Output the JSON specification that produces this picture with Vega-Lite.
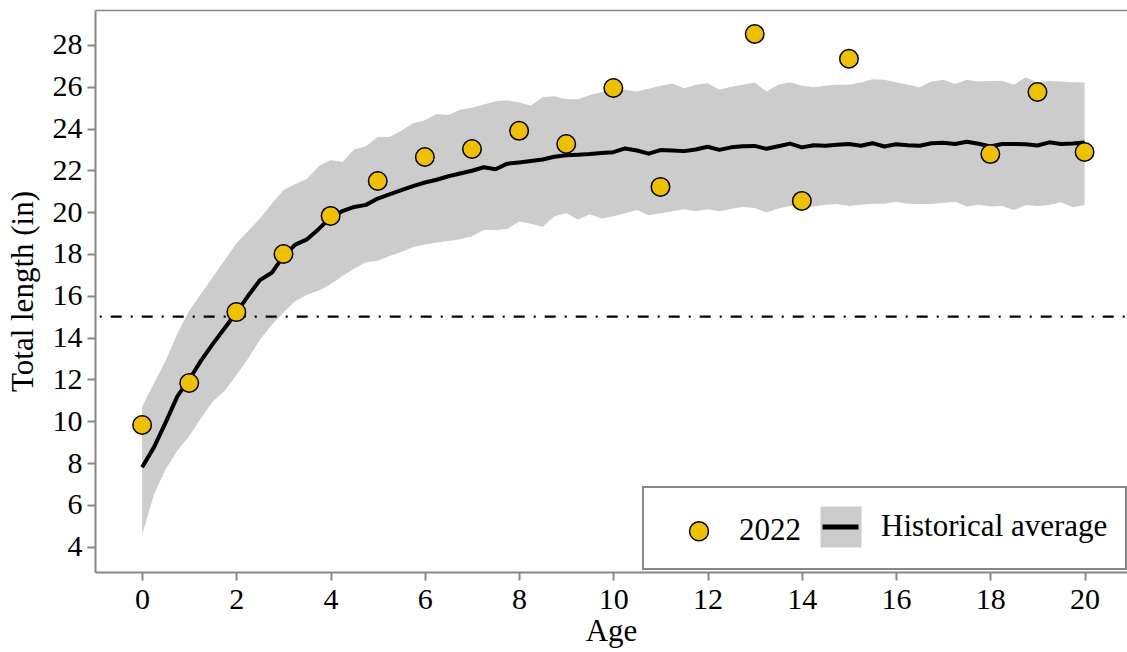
{
  "$schema": "https://vega.github.io/schema/vega-lite/v6.json",
  "width": 1032,
  "height": 562,
  "autosize": {"type": "none"},
  "padding": {"left": 95, "top": 10, "right": 0, "bottom": 80},
  "config": {
    "font": "Liberation Serif",
    "view": {"stroke": null},
    "legend": {"strokeWidth": 2},
    "axis": {
      "grid": false,
      "domainColor": "#878787",
      "domainWidth": 2,
      "tickColor": "#878787",
      "tickWidth": 2,
      "tickSize": 8,
      "labelFont": "Liberation Serif",
      "labelFontSize": 30,
      "labelColor": "black",
      "titleFont": "Liberation Serif",
      "titleFontSize": 31,
      "titleFontWeight": "normal",
      "titleColor": "black"
    }
  },
  "datasets": {
    "band": [
      {"age": 0, "mean": 7.8, "lower": 4.56, "upper": 10.7},
      {"age": 0.25, "mean": 8.75, "lower": 6.5, "upper": 11.8},
      {"age": 0.5, "mean": 9.95, "lower": 7.7, "upper": 12.9},
      {"age": 0.75, "mean": 11.2, "lower": 8.6, "upper": 14.2},
      {"age": 1, "mean": 12.0, "lower": 9.3, "upper": 15.3},
      {"age": 1.25, "mean": 12.9, "lower": 10.15, "upper": 16.1},
      {"age": 1.5, "mean": 13.7, "lower": 10.95, "upper": 16.9},
      {"age": 1.75, "mean": 14.45, "lower": 11.45, "upper": 17.7},
      {"age": 2, "mean": 15.2, "lower": 12.2, "upper": 18.5},
      {"age": 2.25, "mean": 16.0, "lower": 13.0, "upper": 19.1},
      {"age": 2.5, "mean": 16.75, "lower": 13.9, "upper": 19.7},
      {"age": 2.75, "mean": 17.1, "lower": 14.6, "upper": 20.4},
      {"age": 3, "mean": 17.9, "lower": 15.2, "upper": 21.06},
      {"age": 3.25, "mean": 18.45, "lower": 15.75, "upper": 21.35},
      {"age": 3.5, "mean": 18.7, "lower": 16.05, "upper": 21.6},
      {"age": 3.75, "mean": 19.2, "lower": 16.25, "upper": 22.2},
      {"age": 4, "mean": 19.75, "lower": 16.55, "upper": 22.5},
      {"age": 4.25, "mean": 20.05, "lower": 16.95, "upper": 22.4},
      {"age": 4.5, "mean": 20.25, "lower": 17.3, "upper": 23.0},
      {"age": 4.75, "mean": 20.35, "lower": 17.6, "upper": 23.15},
      {"age": 5, "mean": 20.65, "lower": 17.68, "upper": 23.6},
      {"age": 5.25, "mean": 20.85, "lower": 17.9, "upper": 23.6},
      {"age": 5.5, "mean": 21.05, "lower": 18.1, "upper": 23.9},
      {"age": 5.75, "mean": 21.25, "lower": 18.33, "upper": 24.25},
      {"age": 6, "mean": 21.42, "lower": 18.45, "upper": 24.4},
      {"age": 6.25, "mean": 21.55, "lower": 18.55, "upper": 24.7},
      {"age": 6.5, "mean": 21.72, "lower": 18.62, "upper": 24.65},
      {"age": 6.75, "mean": 21.85, "lower": 18.7, "upper": 24.9},
      {"age": 7, "mean": 21.98, "lower": 18.85, "upper": 25.0},
      {"age": 7.25, "mean": 22.15, "lower": 19.15, "upper": 25.15},
      {"age": 7.5, "mean": 22.05, "lower": 19.15, "upper": 25.3},
      {"age": 7.75, "mean": 22.32, "lower": 19.2, "upper": 25.35},
      {"age": 8, "mean": 22.38, "lower": 19.55, "upper": 25.25},
      {"age": 8.25, "mean": 22.45, "lower": 19.45, "upper": 25.1},
      {"age": 8.5, "mean": 22.52, "lower": 19.3, "upper": 25.5},
      {"age": 8.75, "mean": 22.65, "lower": 19.8, "upper": 25.55},
      {"age": 9, "mean": 22.72, "lower": 19.95, "upper": 25.4},
      {"age": 9.25, "mean": 22.75, "lower": 19.65, "upper": 25.4},
      {"age": 9.5, "mean": 22.78, "lower": 19.9, "upper": 25.6},
      {"age": 9.75, "mean": 22.83, "lower": 19.7, "upper": 25.75},
      {"age": 10, "mean": 22.87, "lower": 19.8, "upper": 25.92},
      {"age": 10.25, "mean": 23.05, "lower": 19.95, "upper": 25.85},
      {"age": 10.5, "mean": 22.95, "lower": 20.1, "upper": 25.77},
      {"age": 10.75, "mean": 22.8, "lower": 19.85, "upper": 25.9},
      {"age": 11, "mean": 22.97, "lower": 19.95, "upper": 26.05},
      {"age": 11.25, "mean": 22.95, "lower": 20.05, "upper": 26.15},
      {"age": 11.5, "mean": 22.92, "lower": 20.14, "upper": 25.93},
      {"age": 11.75, "mean": 23.0, "lower": 20.05, "upper": 26.1},
      {"age": 12, "mean": 23.13, "lower": 20.14, "upper": 26.17},
      {"age": 12.25, "mean": 22.98, "lower": 20.05, "upper": 25.85},
      {"age": 12.5, "mean": 23.1, "lower": 20.16, "upper": 26.0},
      {"age": 12.75, "mean": 23.15, "lower": 20.25, "upper": 26.1},
      {"age": 13, "mean": 23.17, "lower": 20.2, "upper": 26.2},
      {"age": 13.25, "mean": 23.03, "lower": 19.99, "upper": 25.77},
      {"age": 13.5, "mean": 23.15, "lower": 20.18, "upper": 26.1},
      {"age": 13.75, "mean": 23.28, "lower": 20.3, "upper": 26.22},
      {"age": 14, "mean": 23.1, "lower": 20.25, "upper": 26.05},
      {"age": 14.25, "mean": 23.2, "lower": 20.27, "upper": 25.98},
      {"age": 14.5, "mean": 23.18, "lower": 20.35, "upper": 26.05},
      {"age": 14.75, "mean": 23.22, "lower": 20.39, "upper": 26.09},
      {"age": 15, "mean": 23.26, "lower": 20.3, "upper": 26.1},
      {"age": 15.25, "mean": 23.18, "lower": 20.35, "upper": 26.2},
      {"age": 15.5, "mean": 23.3, "lower": 20.4, "upper": 26.36},
      {"age": 15.75, "mean": 23.14, "lower": 20.4, "upper": 26.33},
      {"age": 16, "mean": 23.25, "lower": 20.5, "upper": 26.22},
      {"age": 16.25, "mean": 23.2, "lower": 20.4, "upper": 26.1},
      {"age": 16.5, "mean": 23.18, "lower": 20.39, "upper": 25.98},
      {"age": 16.75, "mean": 23.3, "lower": 20.39, "upper": 26.25},
      {"age": 17, "mean": 23.32, "lower": 20.45, "upper": 26.33},
      {"age": 17.25, "mean": 23.26, "lower": 20.5, "upper": 26.13},
      {"age": 17.5, "mean": 23.37, "lower": 20.27, "upper": 26.33},
      {"age": 17.75, "mean": 23.27, "lower": 20.35, "upper": 26.25},
      {"age": 18, "mean": 23.14, "lower": 20.27, "upper": 26.27},
      {"age": 18.25, "mean": 23.26, "lower": 20.3, "upper": 26.29},
      {"age": 18.5, "mean": 23.26, "lower": 20.1, "upper": 26.09},
      {"age": 18.75, "mean": 23.25, "lower": 20.34, "upper": 26.45},
      {"age": 19, "mean": 23.19, "lower": 20.3, "upper": 26.2},
      {"age": 19.25, "mean": 23.34, "lower": 20.34, "upper": 26.28},
      {"age": 19.5, "mean": 23.26, "lower": 20.47, "upper": 26.25},
      {"age": 19.75, "mean": 23.28, "lower": 20.24, "upper": 26.22},
      {"age": 20, "mean": 23.33, "lower": 20.34, "upper": 26.2}
    ],
    "obs": [
      {"age": 0, "length": 9.82},
      {"age": 1, "length": 11.83},
      {"age": 2, "length": 15.22},
      {"age": 3, "length": 18.0},
      {"age": 4, "length": 19.82},
      {"age": 5, "length": 21.49},
      {"age": 6, "length": 22.64},
      {"age": 7, "length": 23.02},
      {"age": 8, "length": 23.89},
      {"age": 9, "length": 23.26},
      {"age": 10, "length": 25.94},
      {"age": 11, "length": 21.21},
      {"age": 13, "length": 28.52},
      {"age": 14, "length": 20.54},
      {"age": 15, "length": 27.34},
      {"age": 18, "length": 22.78},
      {"age": 19, "length": 25.75},
      {"age": 20, "length": 22.88}
    ]
  },
  "layer": [
    {
      "data": {"name": "band"},
      "mark": {"type": "area", "opacity": 1},
      "encoding": {
        "x": {
          "field": "age", "type": "quantitative",
          "scale": {"domain": [-1, 20.9], "nice": false, "zero": false},
          "axis": {"orient": "top", "labels": false, "ticks": false, "title": null, "domainWidth": 1.5}
        },
        "y": {
          "field": "lower", "type": "quantitative", "title": "Total length (in)",
          "scale": {"domain": [2.79, 29.67], "nice": false, "zero": false},
          "axis": {"values": [4, 6, 8, 10, 12, 14, 16, 18, 20, 22, 24, 26, 28], "labelPadding": 5, "titlePadding": 13}
        },
        "y2": {"field": "upper"},
        "fill": {
          "datum": "Historical average", "type": "nominal",
          "scale": {"domain": ["2022", "Historical average"], "range": ["#EFC000", "#CCCCCC"]},
          "legend": {
            "title": null, "orient": "none", "legendX": 548, "legendY": 477, "direction": "horizontal",
            "strokeColor": "#878787", "padding": 18.5, "symbolSize": 1681, "symbolType": "square",
            "symbolStrokeWidth": 1.5, "symbolOffset": 16, "labelOffset": 18.5, "columnPadding": 2,
            "labelFont": "Liberation Serif", "labelFontSize": 31, "labelColor": "black", "labelLimit": 400
          }
        }
      }
    },
    {
      "data": {"name": "band"},
      "mark": {"type": "line", "strokeWidth": 4, "strokeJoin": "round"},
      "encoding": {
        "x": {"field": "age", "type": "quantitative", "axis": null},
        "y": {"field": "mean", "type": "quantitative", "title": "Total length (in)"},
        "color": {
          "datum": "Historical average", "type": "nominal",
          "scale": {"domain": ["Historical average"], "range": ["black"]},
          "legend": {
            "title": null, "orient": "none", "legendX": 725, "legendY": 496.5,
            "symbolType": "stroke", "symbolSize": 1296, "symbolStrokeWidth": 5,
            "labelExpr": "''", "padding": 0, "labelFontSize": 10, "strokeColor": null
          }
        }
      }
    },
    {
      "data": {"values": [{}]},
      "mark": {"type": "rule", "color": "black", "strokeWidth": 2.2, "strokeDash": [11, 9, 2, 9], "strokeDashOffset": 17.7},
      "encoding": {"y": {"datum": 15, "type": "quantitative"}}
    },
    {
      "data": {"name": "obs"},
      "mark": {"type": "point", "filled": true, "size": 1597, "strokeWidth": 1.5, "opacity": 1},
      "encoding": {
        "x": {
          "field": "age", "type": "quantitative", "title": "Age",
          "axis": {"orient": "bottom", "values": [0, 2, 4, 6, 8, 10, 12, 14, 16, 18, 20], "labelPadding": 4, "titlePadding": 2}
        },
        "y": {"field": "length", "type": "quantitative", "title": "Total length (in)"},
        "fill": {
          "datum": "2022", "type": "nominal",
          "legend": {
            "title": null, "orient": "none", "legendX": 548, "legendY": 477, "direction": "horizontal",
            "strokeColor": "#878787", "padding": 18.5, "symbolSize": 1681, "symbolType": "square",
            "symbolStrokeWidth": 1.5, "symbolOffset": 16, "labelOffset": 18.5, "columnPadding": 2,
            "labelFont": "Liberation Serif", "labelFontSize": 31, "labelColor": "black", "labelLimit": 400
          }
        },
        "shape": {
          "datum": "2022", "type": "nominal",
          "scale": {"domain": ["2022", "Historical average"], "range": ["M-0.463,0A0.463,0.463,0,1,1,0.463,0A0.463,0.463,0,1,1,-0.463,0Z", "square"]},
          "legend": {
            "title": null, "orient": "none", "legendX": 548, "legendY": 477, "direction": "horizontal",
            "strokeColor": "#878787", "padding": 18.5, "symbolSize": 1681, "symbolType": "square",
            "symbolStrokeWidth": 1.5, "symbolOffset": 16, "labelOffset": 18.5, "columnPadding": 2,
            "labelFont": "Liberation Serif", "labelFontSize": 31, "labelColor": "black", "labelLimit": 400
          }
        },
        "stroke": {
          "datum": "2022", "type": "nominal",
          "scale": {"domain": ["2022", "Historical average"], "range": ["black", "transparent"]},
          "legend": {
            "title": null, "orient": "none", "legendX": 548, "legendY": 477, "direction": "horizontal",
            "strokeColor": "#878787", "padding": 18.5, "symbolSize": 1681, "symbolType": "square",
            "symbolStrokeWidth": 1.5, "symbolOffset": 16, "labelOffset": 18.5, "columnPadding": 2,
            "labelFont": "Liberation Serif", "labelFontSize": 31, "labelColor": "black", "labelLimit": 400
          }
        }
      }
    }
  ],
  "resolve": {"axis": {"x": "independent"}}
}
